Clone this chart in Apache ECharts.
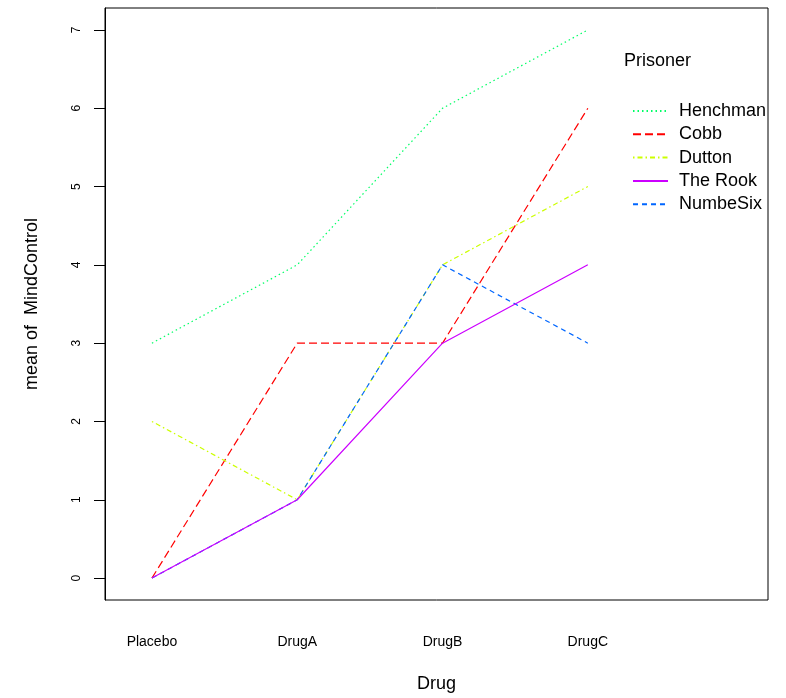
<!DOCTYPE html>
<html>
<head>
<meta charset="utf-8">
<script src="https://cdn.jsdelivr.net/npm/echarts@6/dist/echarts.min.js"></script>
<style>
  html, body { margin: 0; padding: 0; background: #fff; }
  #chart { width: 786px; height: 698px; }
</style>
</head>
<body>
<div id="chart"></div>
<script>
const drugs = ['Placebo', 'DrugA', 'DrugB', 'DrugC']
const yTicks = [0, 1, 2, 3, 4, 5, 6, 7]

const henchman = [3, 4, 6, 7]
const cobb = [0, 3, 3, 6]
const dutton = [2, 1, 4, 5]
const theRook = [0, 1, 3, 4]
const numbeSix = [0, 1, 4, 3]

const legendOrder = ['Henchman', 'Cobb', 'Dutton', 'The Rook', 'NumbeSix']

const font = 'Liberation Sans, Arial, sans-serif'

// drug index -> x position 1..4
const pts = vals => vals.map((v, i) => [i + 1, v])

const line = (name, vals, color, dash) => ({
  name,
  type: 'line',
  data: pts(vals),
  symbol: 'none',
  lineStyle: { color, width: 1.2, type: dash },
  itemStyle: { color }
})

const chart = echarts.init(document.getElementById('chart'))
chart.setOption({
  animation: false,
  backgroundColor: '#fff',
  textStyle: { fontFamily: font },
  title: {
    text: 'Prisoner',
    left: 619,
    top: 47,
    textStyle: { fontFamily: font, fontSize: 18, fontWeight: 'normal', color: '#000' }
  },
  legend: {
    orient: 'vertical',
    left: 627,
    top: 97,
    icon: 'inherit',
    itemWidth: 35,
    itemHeight: 14,
    itemGap: 5.3,
    data: legendOrder,
    itemStyle: { opacity: 0 },
    textStyle: { fontFamily: font, fontSize: 18, color: '#000', padding: [0, 0, 0, 6] }
  },
  grid: {
    left: 105, right: 18, top: 8, bottom: 97,
    show: true, borderColor: '#000', borderWidth: 1, backgroundColor: 'transparent'
  },
  xAxis: {
    type: 'value',
    min: 0.677,
    max: 5.24,
    name: 'Drug',
    nameLocation: 'middle',
    nameGap: 75,
    nameTextStyle: { fontFamily: font, fontSize: 18, color: '#000' },
    axisLine: { show: false },
    axisTick: { show: false },
    splitLine: { show: false },
    axisLabel: {
      customValues: [1, 2, 3, 4],
      formatter: v => drugs[Math.round(v) - 1],
      margin: 35,
      fontSize: 14,
      color: '#000',
      fontFamily: font
    }
  },
  yAxis: {
    type: 'value',
    min: -0.28,
    max: 7.28,
    name: 'mean of  MindControl',
    nameLocation: 'middle',
    nameGap: 64,
    nameTextStyle: { fontFamily: font, fontSize: 18, color: '#000' },
    axisLine: { show: true, lineStyle: { color: '#000' } },
    axisTick: { show: true, customValues: yTicks, length: 11, lineStyle: { color: '#000' } },
    splitLine: { show: false },
    axisLabel: {
      customValues: yTicks,
      rotate: 90,
      margin: 22,
      fontSize: 12,
      color: '#000',
      fontFamily: font
    }
  },
  series: [
    line('Henchman', henchman, '#00FF66', [1.5, 3]),
    line('Cobb', cobb, '#FF0000', [8, 4]),
    line('Dutton', dutton, '#CCFF00', [1.5, 3, 5, 3]),
    line('NumbeSix', numbeSix, '#0066FF', [5, 4]),
    line('The Rook', theRook, '#CC00FF', 'solid')
  ]
})
</script>
</body>
</html>
